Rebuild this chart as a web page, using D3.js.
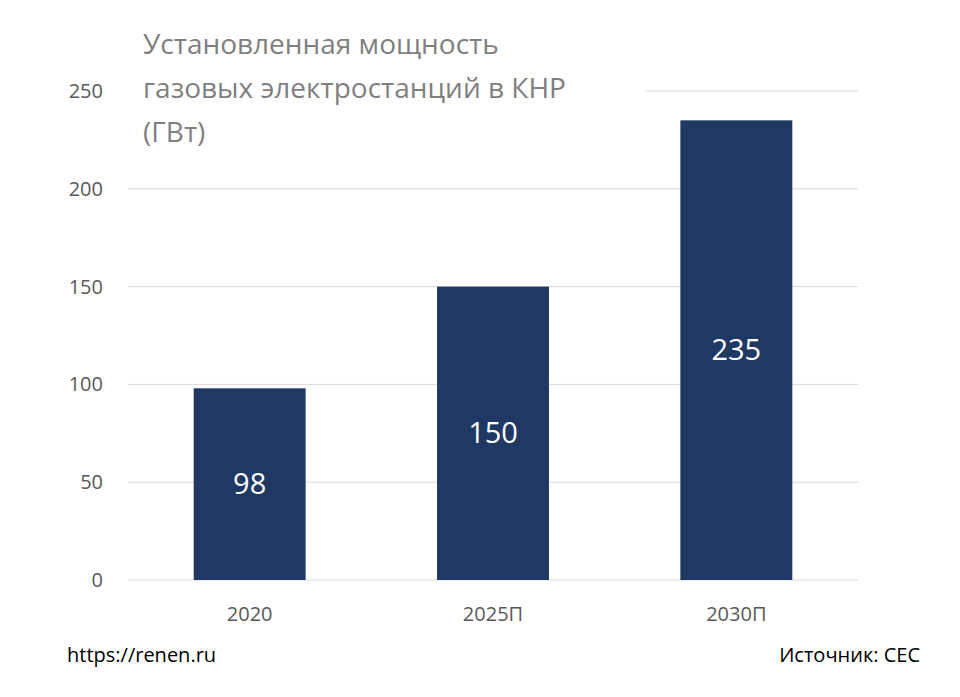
<!DOCTYPE html>
<html><head><meta charset="utf-8">
<script src="https://cdn.jsdelivr.net/npm/d3@7"></script>
<style>body{margin:0;background:#fff;font-family:"Open Sans",sans-serif}</style>
</head><body>
<svg id="chart" width="960" height="697"></svg>
<script>
const categories = ['2020', '2025П', '2030П'];
const values = [98, 150, 235];
const yTicks = [0, 50, 100, 150, 200, 250];
const titleLines = ['Установленная мощность', 'газовых электростанций в КНР', '(ГВт)'];

const svg = d3.select('#chart');
const plotLeft = 128, plotRight = 858, plotTop = 91, plotBottom = 580;

const x = d3.scaleBand().domain(categories).range([plotLeft, plotRight]).paddingInner(0.54).paddingOuter(0.27);
const y = d3.scaleLinear().domain([0, 250]).range([plotBottom, plotTop]);

// gridlines
svg.append('g').selectAll('line').data(yTicks).enter().append('line')
	.attr('x1', plotLeft).attr('x2', plotRight)
	.attr('y1', d => y(d)).attr('y2', d => y(d))
	.attr('stroke', '#d9d9d9').attr('stroke-width', 1);

// y tick labels
svg.append('g').selectAll('text').data(yTicks).enter().append('text')
	.attr('x', 103).attr('y', d => y(d) + 7)
	.attr('text-anchor', 'end').attr('font-size', 20).attr('fill', '#595959')
	.text(d => d);

// bars
svg.append('g').selectAll('rect').data(values).enter().append('rect')
	.attr('x', (d, i) => x(categories[i])).attr('width', x.bandwidth())
	.attr('y', d => y(d)).attr('height', d => y(0) - y(d))
	.attr('fill', '#1f3864');

// value labels
svg.append('g').selectAll('text').data(values).enter().append('text')
	.attr('x', (d, i) => x(categories[i]) + x.bandwidth() / 2)
	.attr('y', d => (y(d) + y(0)) / 2 + 10)
	.attr('text-anchor', 'middle').attr('font-size', 29).attr('fill', '#fff')
	.text(d => d);

// category labels
svg.append('g').selectAll('text').data(categories).enter().append('text')
	.attr('x', d => x(d) + x.bandwidth() / 2).attr('y', 621)
	.attr('text-anchor', 'middle').attr('font-size', 20).attr('fill', '#595959')
	.text(d => d);

// title with white backing over the top gridline
svg.append('rect').attr('x', 128).attr('y', 80).attr('width', 517).attr('height', 22).attr('fill', '#fff');
svg.append('g').selectAll('text').data(titleLines).enter().append('text')
	.attr('x', 143).attr('y', (d, i) => 54 + i * 44)
	.attr('font-size', 28).attr('fill', '#7f7f7f')
	.text(d => d);

// footer
svg.append('text').attr('x', 67).attr('y', 662).attr('font-size', 20).attr('fill', '#000').text('https://renen.ru');
svg.append('text').attr('x', 920).attr('y', 662).attr('text-anchor', 'end').attr('font-size', 20).attr('fill', '#000').text('Источник: CEC');
</script>
</body></html>
